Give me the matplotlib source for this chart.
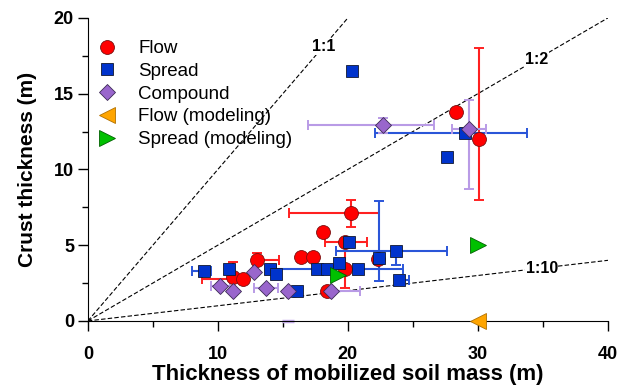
import numpy as np
import matplotlib.pyplot as plt

plt.rcParams['font.family'] = ['Liberation Sans', 'DejaVu Sans']

# Flow (field data): x, y, x-err low/high, y-err low/high
flow_x = [28.3, 30.1, 20.2, 18.1, 19.8, 16.4, 17.3, 13.0, 22.3, 11.2, 11.9, 18.4, 19.8]
flow_y = [13.8, 12.0, 7.1, 5.9, 5.2, 4.2, 4.2, 4.0, 4.1, 2.9, 2.8, 2.0, 3.4]
flow_xlo = [0, 0, 4.7, 0, 1.6, 0, 0, 0, 0, 0, 3.1, 0, 0]
flow_xhi = [0, 0, 2.2, 0, 1.7, 0, 0, 1.7, 0, 0, 0, 0, 0]
flow_ylo = [0, 4.0, 0.9, 0, 0, 0, 0, 0, 0, 0, 0, 0, 1.2]
flow_yhi = [0, 6.0, 0.9, 0, 0, 0, 0, 0.5, 0, 1.0, 0, 0, 1.2]

# Spread (field data)
spread_x = [20.3, 27.6, 29.0, 8.9, 10.85, 14.0, 14.5, 16.1, 20.1, 17.6, 18.4, 19.3, 20.8, 22.4, 23.7, 23.9]
spread_y = [16.5, 10.8, 12.4, 3.3, 3.4, 3.45, 3.1, 1.95, 5.2, 3.43, 3.43, 3.85, 3.43, 4.13, 4.6, 2.7]
spread_xlo = [0, 0, 6.9, 0.9, 0, 0, 0, 0, 0, 0, 0, 0, 6.3, 0, 4.6, 0]
spread_xhi = [0, 0, 4.8, 0.6, 0, 0, 0, 0, 0, 0, 0, 0, 3.4, 0, 3.9, 0.8]
spread_ylo = [0, 0, 0, 0, 0, 0, 0, 0, 0, 0, 0, 0, 0, 1.5, 0.9, 0]
spread_yhi = [0, 0, 0, 0, 0, 0, 0, 0, 0, 0, 0, 0, 0, 3.8, 0, 0]

# Compound (field data)
comp_x = [22.7, 29.3, 10.2, 11.2, 12.8, 13.7, 15.4, 18.7]
comp_y = [12.9, 12.7, 2.3, 1.95, 3.2, 2.15, 2.0, 2.0]
comp_xlo = [5.8, 1.3, 0.7, 0, 0, 0.9, 0, 0]
comp_xhi = [3.9, 1.3, 0.7, 0, 0, 0.9, 0, 2.2]
comp_ylo = [0.5, 4.0, 0, 0, 0, 0, 0, 0]
comp_yhi = [0.5, 1.9, 0, 0, 0, 0, 0, 0]
# stray compound error cap sitting on the x axis
comp_cap_x = [15.4]
comp_cap_y = [0.0]

# modeling results
flow_mod_x = [30.0]
flow_mod_y = [0.0]
spread_mod_x = [30.0, 19.2]
spread_mod_y = [5.0, 3.0]

ratios = [1, 2, 10]
ratio_labels = ['1:1', '1:2', '1:10']
ratio_label_x = [18.1, 34.5, 34.9]

fig = plt.figure(figsize=(6.32, 3.89), dpi=100)
ax = fig.add_axes([0.139, 0.175, 0.823, 0.779])

# reference lines
for r, lab, lx in zip(ratios, ratio_labels, ratio_label_x):
    xe = min(40, 20 * r)
    ax.plot([0, xe], [0, xe / r], ls=(0, (4, 2)), color='black', lw=0.8, zorder=1)
    ax.text(lx, lx / r, lab, ha='center', va='center', fontsize=11.5, fontweight='bold',
            bbox=dict(facecolor='white', edgecolor='none', pad=0.5), zorder=2)


def err_plot(x, y, xlo, xhi, ylo, yhi, color):
    x = np.array(x); y = np.array(y)
    xe = np.array([xlo, xhi]); ye = np.array([ylo, yhi])
    m = (xe.sum(axis=0) > 0) | (ye.sum(axis=0) > 0)
    ax.errorbar(x[m], y[m], xerr=xe[:, m], yerr=ye[:, m], fmt='none', ecolor=color,
                elinewidth=1.5, capsize=3.8, capthick=1.4, zorder=3)


err_plot(flow_x, flow_y, flow_xlo, flow_xhi, flow_ylo, flow_yhi, '#ff2020')
err_plot(spread_x, spread_y, spread_xlo, spread_xhi, spread_ylo, spread_yhi, '#2a55d8')
err_plot(comp_x, comp_y, comp_xlo, comp_xhi, comp_ylo, comp_yhi, '#b99be6')
ax.plot(comp_cap_x, comp_cap_y, '_', ms=8, mew=2.5, color='#c8b0ee', clip_on=False, zorder=2)

ax.plot(flow_x, flow_y, 'o', ms=10, mfc='#ff0000', mec='#7a1010', mew=0.6, ls='none',
        label='Flow', zorder=5)
ax.plot(spread_x, spread_y, 's', ms=8.5, mfc='#0033cc', mec='#101830', mew=0.6, ls='none',
        label='Spread', zorder=5)
ax.plot(comp_x, comp_y, 'D', ms=8.5, mfc='#9966cc', mec='#3c2a55', mew=0.6, ls='none',
        label='Compound', zorder=6)
ax.plot(flow_mod_x, flow_mod_y, '<', ms=11, mfc='#ffa500', mec='#b07000', mew=0.6, ls='none',
        label='Flow (modeling)', zorder=7, clip_on=False)
ax.plot(spread_mod_x, spread_mod_y, '>', ms=11, mfc='#00c000', mec='#006000', mew=0.6, ls='none',
        label='Spread (modeling)', zorder=7)

ax.set_xlim(0, 40)
ax.set_ylim(0, 20)
ax.set_xticks([0, 10, 20, 30, 40])
ax.set_xticks([5, 15, 25, 35], minor=True)
ax.set_yticks([0, 5, 10, 15, 20])
ax.set_yticks([2.5, 7.5, 12.5, 17.5], minor=True)
ax.tick_params(which='major', direction='out', length=7, width=1, labelsize=13)
ax.tick_params(axis='x', which='major', pad=11)
ax.tick_params(axis='y', which='major', pad=3)
ax.tick_params(which='minor', direction='out', length=4, width=1)
for lab in ax.get_xticklabels() + ax.get_yticklabels():
    lab.set_fontweight('bold')
ax.spines['top'].set_visible(False)
ax.spines['right'].set_visible(False)

ax.set_xlabel('Thickness of mobilized soil mass (m)', fontsize=16, fontweight='bold', labelpad=1)
ax.set_ylabel('Crust thickness (m)', fontsize=15, fontweight='bold', labelpad=12)

ax.legend(loc='upper left', bbox_to_anchor=(-0.0144, 0.952), frameon=False, fontsize=13.5,
          handletextpad=0.7, labelspacing=0.3, borderaxespad=0.0, numpoints=1)

fig.savefig('out.png', dpi=100)
